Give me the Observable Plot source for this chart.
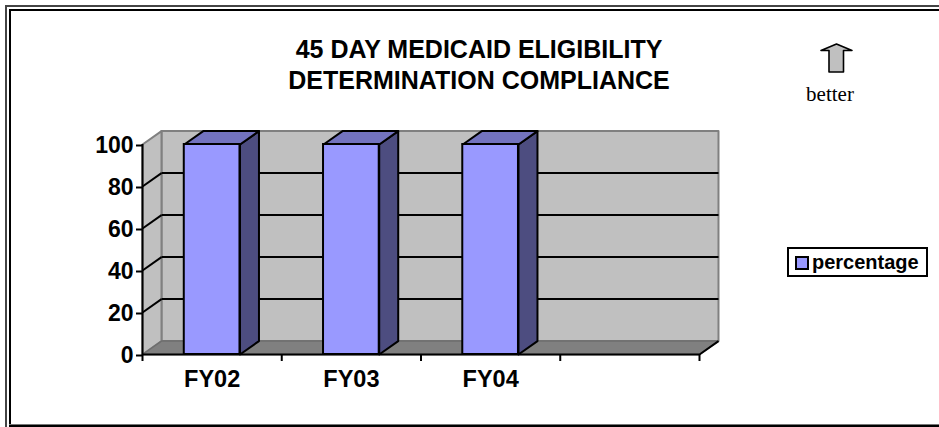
<!DOCTYPE html>
<html>
<head>
<meta charset="utf-8">
<script src="https://cdn.jsdelivr.net/npm/d3@7"></script>
<script src="https://cdn.jsdelivr.net/npm/@observablehq/plot@0.6"></script>
<style>
html,body{margin:0;padding:0;background:#fff;width:939px;height:427px;overflow:hidden}
#wrap{position:relative;width:939px;height:427px;font-family:"Liberation Sans",Arial,sans-serif}
#wrap svg{display:block}
.line{position:absolute}
.title{position:absolute;left:229px;width:500px;text-align:center;font-weight:bold;font-size:25px;line-height:31px;top:34px;color:#000}
.better{position:absolute;left:780px;width:100px;text-align:center;font-family:"Liberation Serif",serif;font-size:21px;top:81px;line-height:26px;color:#000}
.legend{position:absolute;left:787px;top:247px;width:137px;height:26px;border:2px solid #000;background:#fff;box-sizing:content-box}
.legend i{position:absolute;left:6px;top:7px;width:10px;height:10px;border:2px solid #000;background:#9999ff}
.legend span{position:absolute;left:23px;top:0px;font-weight:bold;font-size:20px;line-height:26px;color:#000}
</style>
</head>
<body>
<div id="wrap"></div>
<script>
const categories = ["FY02", "FY03", "FY04"];
const percentage = [100, 100, 100];
const yTicks = [0, 20, 40, 60, 80, 100];
const slots = [0, 1, 2, 3, 4];

// Depth of the pseudo-3D box, in data units of the two scales
const dx = 0.1364;
const dy = 6.4;
const barStart = 0.3;
const barEnd = 0.7;

const quad = (pts) => pts.map(([x, y]) => ({x, y}));
const closed = (pts, o) => Plot.line(quad(pts), {x: "x", y: "y", curve: "linear-closed", ...o});

const bars = categories.map((c, i) => ({c, v: percentage[i], a: i + barStart, b: i + barEnd}));
const inner = yTicks.slice(1, -1);

const chart = Plot.plot({
  width: 939,
  height: 427,
  marginTop: 144, marginBottom: 73, marginLeft: 142, marginRight: 240,
  style: {background: "transparent", fontFamily: '"Liberation Sans",Arial,sans-serif', overflow: "visible"},
  x: {type: "linear", domain: [0, 4]},
  y: {type: "linear", domain: [0, 100]},
  marks: [
    // back wall
    closed([[dx, dy], [4 + dx, dy], [4 + dx, 100 + dy], [dx, 100 + dy]], {fill: "#c0c0c0", stroke: "#808080", strokeWidth: 2}),
    // side wall
    closed([[0, 0], [dx, dy], [dx, 100 + dy], [0, 100]], {fill: "#c0c0c0", stroke: "#808080", strokeWidth: 2}),
    // floor
    closed([[0, 0], [4, 0], [4 + dx, dy], [dx, dy]], {fill: "#808080", stroke: "#6e6e6e", strokeWidth: 1.5}),
    // gridlines on the walls
    Plot.link(inner, {x1: 0, y1: (d) => d, x2: dx, y2: (d) => d + dy, stroke: "#000", strokeWidth: 2}),
    Plot.link(inner, {x1: dx, y1: (d) => d + dy, x2: 4 + dx, y2: (d) => d + dy, stroke: "#000", strokeWidth: 2}),
    // axis lines
    Plot.link([0], {x1: 4, y1: 0, x2: 4 + dx, y2: dy, stroke: "#000", strokeWidth: 2}),
    Plot.ruleY([0], {x1: 0, x2: 4, stroke: "#000", strokeWidth: 2}),
    Plot.ruleX([0], {y1: 0, y2: 100, stroke: "#000", strokeWidth: 2}),
    // bars: side, top, front
    ...bars.map((d) => closed([[d.b, 0], [d.b + dx, dy], [d.b + dx, d.v + dy], [d.b, d.v]], {fill: "#4d4d80", stroke: "#000", strokeWidth: 2})),
    ...bars.map((d) => closed([[d.a, d.v], [d.b, d.v], [d.b + dx, d.v + dy], [d.a + dx, d.v + dy]], {fill: "#7373bf", stroke: "#000", strokeWidth: 2})),
    Plot.rectY(bars, {x1: "a", x2: "b", y1: 0, y2: "v", fill: "#9999ff", stroke: "#000", strokeWidth: 2}),
    // axes
    Plot.axisY({ticks: yTicks, tickSize: 6, tickPadding: 3, label: null, fontSize: 23, fontWeight: "bold", stroke: "#000", strokeWidth: 2, strokeOpacity: 1, fill: "#000", textStroke: "none", dy: 1}),
    Plot.axisX({ticks: slots, tickSize: 7, tickPadding: 0, label: null, tickFormat: () => "", stroke: "#000", strokeWidth: 2, strokeOpacity: 1}),
    Plot.text(bars, {x: (d) => (d.a + d.b) / 2, y: 0, text: "c", dy: 25, fontSize: 23.5, fontWeight: "bold", fill: "#000"})
  ]
});

const wrap = document.getElementById("wrap");
wrap.appendChild(chart);

const addLine = (l, t, w, h, c) => {
  const e = document.createElement("div");
  e.className = "line";
  e.style.cssText = `left:${l}px;top:${t}px;width:${w}px;height:${h}px;background:${c}`;
  wrap.appendChild(e);
};
// double frame (open on the right)
addLine(5, 5, 934, 2, "#444");
addLine(5, 5, 2, 422, "#444");
addLine(9, 9, 930, 2, "#000");
addLine(9, 9, 2, 418, "#000");
addLine(9, 424, 930, 1, "#777");
addLine(9, 425, 930, 2, "#000");

wrap.insertAdjacentHTML("beforeend", `
  <div class="title">45 DAY MEDICAID ELIGIBILITY<br>DETERMINATION COMPLIANCE</div>
  <svg style="position:absolute;left:815px;top:38px" width="44" height="40" viewBox="815 38 44 40">
    <path d="M836.5 44 L852 50.5 L843.5 50.5 L843.5 72 L829 72 L829 50.5 L821 50.5 Z" fill="#c0c0c0" stroke="#000" stroke-width="1.6" stroke-linejoin="round"/>
  </svg>
  <div class="better">better</div>
  <div class="legend"><i></i><span>percentage</span></div>
`);
</script>
</body>
</html>
